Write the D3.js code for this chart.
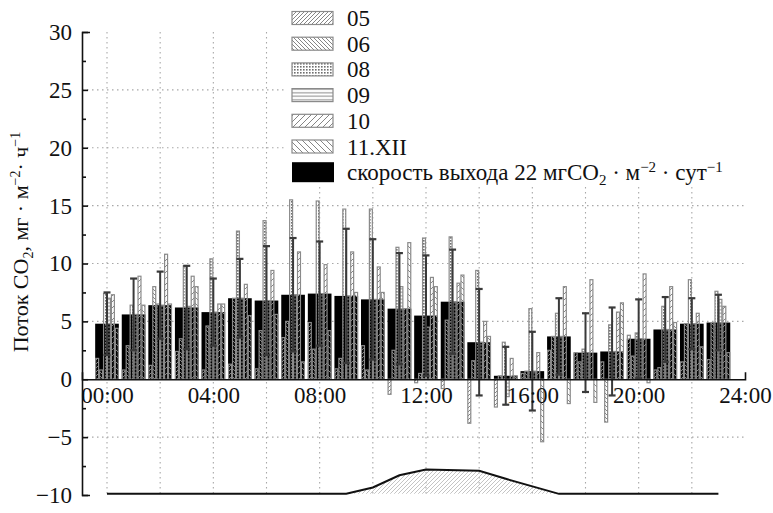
<!DOCTYPE html>
<html><head><meta charset="utf-8">
<script src="https://cdn.jsdelivr.net/npm/d3@7"></script>
<style>
html,body{margin:0;padding:0;background:#fff;}
svg text{font-family:"Liberation Serif","Times New Roman",serif !important;fill:#111;}
</style></head><body>
<svg id="chart" width="773" height="513"></svg>
<script>
// ---- data ----
const hours = [0,1,2,3,4,5,6,7,8,9,10,11,12,13,14,15,16,17,18,19,20,21,22,23];
const seriesNames = ["05","06","08","09","10","11.XII"];
const s05 = [1.8,0.8,1.2,2.4,0.8,1.3,0.9,3.6,4.9,0.9,2.9,-1.3,-0.3,-0.8,-3.8,-2.4,0.5,2.5,2.3,1.5,3.8,0.8,1.5,1.7];
const s06 = [0.8,2.9,8.0,3.5,4.6,7.0,4.2,5.0,2.6,1.8,0.8,2.5,0.5,5.1,1.6,0.3,0.7,3.7,1.5,-3.7,2.0,1.0,4.8,4.9];
const s08 = [7.4,6.4,6.5,9.8,10.4,12.8,13.7,15.5,15.4,14.7,14.7,11.4,12.2,12.3,9.4,3.2,6.1,5.7,2.6,4.7,4.0,6.3,8.6,7.6];
const s09 = [7.0,5.6,6.4,6.3,5.8,7.0,6.8,7.3,7.4,7.2,6.9,8.0,4.5,6.7,3.2,-1.5,0.7,3.7,2.3,2.4,3.5,4.3,4.8,6.9];
const s10 = [7.3,8.9,10.8,8.9,6.5,8.2,9.4,11.0,9.9,11.0,9.7,6.1,8.8,8.3,5.0,1.8,2.3,8.0,8.6,5.8,9.1,8.0,5.7,6.3];
const s11 = [4.4,6.4,6.5,8.0,6.5,5.5,5.6,1.5,4.2,7.5,7.5,11.8,8.0,9.0,3.7,0.3,-5.4,-2.1,-2.0,6.6,-0.3,4.9,2.8,2.3];
const meanRate = [4.8,5.6,6.4,6.2,5.8,7.0,6.8,7.3,7.4,7.2,6.9,6.1,5.5,6.7,3.2,0.3,0.7,3.7,2.3,2.4,3.5,4.3,4.8,4.9];
const sdRate = [2.7,3.1,2.9,3.6,2.9,3.4,4.7,4.9,4.5,5.8,5.2,4.8,5.2,4.5,4.6,2.5,3.4,3.3,3.4,3.8,3.4,2.8,2.2,2.4];
const lightHours = [0,9,10,11,12,14,15,17,23];
const lightValues = [-9.9,-9.9,-9.35,-8.3,-7.8,-7.9,-8.6,-9.9,-9.9];
const yTicks = [-10,-5,0,5,10,15,20,25,30];
const yMinorTicks = [-7.5,-2.5,2.5,7.5,12.5,17.5,22.5,27.5];
const yGrid = [-5,5,10,15,20,25];
const xGridHours = [0,2,4,6,8,10,12,14,16,18,20,22];
const xTickHours = [0,4,8,12,16,20,24];
const xTickLabels = ["00:00","04:00","08:00","12:00","16:00","20:00","24:00"];

const seriesData = [s05,s06,s08,s09,s10,s11];
const patternIds = ["p05","p06","p08","p09","p10","p11"];
const SERIF = '"Liberation Serif","Times New Roman",serif';

// ---- setup ----
const svg = d3.select("#chart");
const x = d3.scaleLinear().domain([0,24]).range([107,745]);
const y = d3.scaleLinear().domain([-10,30]).range([495,32]);
const groupHalf = (x(1)-x(0))*0.445;
const sub = d3.scaleBand().domain(seriesNames).range([-groupHalf, groupHalf]).padding(0);

// patterns
const defs = svg.append("defs");
function hatch(id, w, h, draw){
  const p = defs.append("pattern").attr("id",id).attr("patternUnits","userSpaceOnUse")
    .attr("width",w).attr("height",h);
  draw(p);
}
const hc = "#858585";
hatch("p05",4,4,p=>p.append("path").attr("d","M-1,1 l2,-2 M0,4 l4,-4 M3,5 l2,-2").attr("stroke",hc).attr("stroke-width",1));
hatch("p06",4,4,p=>p.append("path").attr("d","M-1,3 l2,2 M0,0 l4,4 M3,-1 l2,2").attr("stroke",hc).attr("stroke-width",1));
hatch("p08",3,3,p=>{p.append("rect").attr("x",0).attr("y",0).attr("width",1.6).attr("height",1.6).attr("fill","#6e6e6e");});
hatch("p09",4,3.5,p=>p.append("path").attr("d","M0,1.75 H4").attr("stroke",hc).attr("stroke-width",1));
hatch("p10",6,6,p=>p.append("path").attr("d","M-1,1 l2,-2 M0,6 l6,-6 M5,7 l2,-2").attr("stroke",hc).attr("stroke-width",1));
hatch("p11",6,6,p=>p.append("path").attr("d","M-1,5 l2,2 M0,0 l6,6 M5,-1 l2,2").attr("stroke",hc).attr("stroke-width",1));
hatch("plight",4,4,p=>p.append("path").attr("d","M-1,1 l2,-2 M0,4 l4,-4 M3,5 l2,-2").attr("stroke","#bdbdbd").attr("stroke-width",0.9));

// grid
const grid = svg.append("g").attr("stroke","#a8a8a8").attr("stroke-width",1.1).attr("stroke-dasharray","1.5,3.5");
grid.selectAll("line.v").data(xGridHours).join("line").attr("class","v")
  .attr("x1",d=>x(d)).attr("x2",d=>x(d)).attr("y1",y(30)).attr("y2",y(-10));
grid.selectAll("line.h").data(yGrid).join("line").attr("class","h")
  .attr("x1",82).attr("x2",745).attr("y1",d=>y(d)).attr("y2",d=>y(d));

// light curve with hatched area
const lightPts = lightHours.map((h,i)=>[h,lightValues[i]]);
svg.append("path").datum(lightPts)
  .attr("d",d3.area().x(d=>x(d[0])).y0(y(lightValues[0])).y1(d=>y(d[1])))
  .attr("fill","url(#plight)");
svg.append("path").datum(lightPts)
  .attr("d",d3.line().x(d=>x(d[0])).y(d=>y(d[1])))
  .attr("fill","none").attr("stroke","#111").attr("stroke-width",2);

// black bars
svg.append("g").selectAll("rect").data(hours).join("rect")
  .attr("x",h=>x(h)-groupHalf).attr("width",groupHalf*2)
  .attr("y",(h,i)=>y(Math.max(0,meanRate[i]))).attr("height",(h,i)=>Math.abs(y(meanRate[i])-y(0)))
  .attr("fill","#000");

// patterned bars
seriesNames.forEach((name,si)=>{
  svg.append("g").selectAll("rect").data(hours).join("rect")
    .attr("x",h=>x(h)+sub(name)+0.5).attr("width",sub.bandwidth()-1)
    .attr("y",(h,i)=>y(Math.max(0,seriesData[si][i])))
    .attr("height",(h,i)=>Math.abs(y(seriesData[si][i])-y(0)))
    .attr("fill","url(#"+patternIds[si]+")")
    .attr("stroke","#8a8a8a").attr("stroke-width",1.2);
});

// error bars
const eb = svg.append("g").attr("stroke","#3a3a3a");
eb.selectAll("line.e").data(hours).join("line").attr("class","e")
  .attr("x1",h=>x(h)).attr("x2",h=>x(h))
  .attr("y1",(h,i)=>y(meanRate[i]+sdRate[i])).attr("y2",(h,i)=>y(meanRate[i]-sdRate[i]))
  .attr("stroke-width",2);
eb.selectAll("line.t").data(hours).join("line").attr("class","t")
  .attr("x1",h=>x(h)-3.5).attr("x2",h=>x(h)+3.5)
  .attr("y1",(h,i)=>y(meanRate[i]+sdRate[i])).attr("y2",(h,i)=>y(meanRate[i]+sdRate[i]))
  .attr("stroke-width",2.2);
eb.selectAll("line.b").data(hours).join("line").attr("class","b")
  .attr("x1",h=>x(h)-3.5).attr("x2",h=>x(h)+3.5)
  .attr("y1",(h,i)=>y(meanRate[i]-sdRate[i])).attr("y2",(h,i)=>y(meanRate[i]-sdRate[i]))
  .attr("stroke-width",2.2);

// y axis
const yAxis = svg.append("g").attr("transform","translate(82,0)")
  .call(d3.axisLeft(y).tickValues(yTicks).tickSize(-6).tickSizeOuter(-8).tickPadding(10));
yAxis.attr("font-family",SERIF).attr("font-size",23);
yAxis.selectAll("text").style("font-family",SERIF).style("font-size","23px");
svg.append("g").attr("transform","translate(82,0)")
  .call(d3.axisLeft(y).tickValues(yMinorTicks).tickSize(-4).tickFormat(""))
  .select(".domain").remove();
svg.selectAll(".domain, .tick line").attr("stroke","#111").attr("stroke-width",1.6);

// x axis line at zero
const xAxisScale = x.copy().domain([x.invert(82),24]).range([82,745]);
svg.append("g").attr("transform","translate(0,"+y(0)+")")
  .call(d3.axisBottom(xAxisScale).tickValues([]).tickSizeOuter(-7))
  .select(".domain").attr("stroke","#111").attr("stroke-width",1.6);
const xl = svg.append("g").attr("transform","translate(0,"+y(0)+")")
  .call(d3.axisBottom(x).tickValues(xTickHours).tickSize(0).tickPadding(7)
    .tickFormat((d,i)=>xTickLabels[i]));
xl.attr("font-family",SERIF).attr("font-size",23);
xl.select(".domain").remove();
xl.selectAll("text").style("font-family",SERIF).style("font-size","23px").attr("fill","#111");

// y title
const yt = svg.append("text").attr("transform","translate(28,242) rotate(-90)")
  .attr("text-anchor","middle").style("font-size","22px");
yt.append("tspan").text("Поток CO");
yt.append("tspan").style("font-size","14px").attr("baseline-shift","-5").text("2");
yt.append("tspan").text(", мг · м");
yt.append("tspan").style("font-size","14px").attr("baseline-shift","8").text("−2");
yt.append("tspan").text("· ч");
yt.append("tspan").style("font-size","14px").attr("baseline-shift","8").text("−1");

// legend
const lg = svg.append("g");
lg.append("rect").attr("x",284).attr("y",0).attr("width",480).attr("height",187).attr("fill","#fff");
const rowY = i => 18 + i*25.7;
seriesNames.forEach((name,i)=>{
  lg.append("rect").attr("x",292).attr("y",rowY(i)-6.5).attr("width",41).attr("height",13)
    .attr("fill","url(#"+patternIds[i]+")").attr("stroke","#8a8a8a").attr("stroke-width",1.2);
  lg.append("text").attr("x",347).attr("y",rowY(i)).attr("dy","0.35em").style("font-size","23px").text(name);
});
lg.append("rect").attr("x",292).attr("y",rowY(6)-10).attr("width",42).attr("height",20).attr("fill","#000");
const lt = lg.append("text").attr("x",347).attr("y",rowY(6)).attr("dy","0.35em").style("font-size","23px");
lt.append("tspan").text("скорость выхода 22 мгCO");
lt.append("tspan").style("font-size","15px").attr("baseline-shift","-5").text("2");
lt.append("tspan").text(" · м");
lt.append("tspan").style("font-size","15px").attr("baseline-shift","8").text("−2");
lt.append("tspan").text(" · сут");
lt.append("tspan").style("font-size","15px").attr("baseline-shift","8").text("−1");
</script>
</body></html>
